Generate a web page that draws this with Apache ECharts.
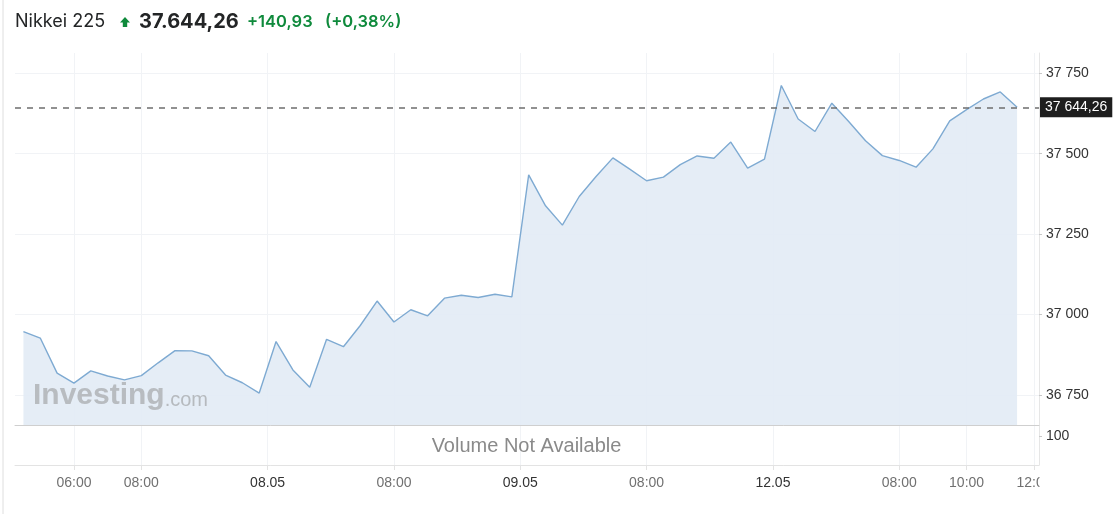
<!DOCTYPE html>
<html><head><meta charset="utf-8">
<script src="https://cdn.jsdelivr.net/npm/echarts@6/dist/echarts.min.js"></script>
<style>html,body{margin:0;padding:0;background:#fff}#c{width:1117px;height:514px}</style>
</head><body><div id="c"></div>
<script>
// ---- data ----
const prices = [
  36947, 36927, 36818, 36787, 36825, 36809, 36797, 36810, 36850, 36888, 36887, 36872, 36812, 36788, 36756,
  36916, 36828, 36774, 36923, 36900, 36966, 37042, 36977, 37015, 36996, 37051, 37060, 37053, 37063, 37055,
  37434, 37338, 37278, 37367, 37429, 37487, 37452, 37416, 37427, 37466, 37493, 37486, 37536, 37455, 37483,
  37712, 37608, 37569, 37657, 37600, 37540, 37494, 37479, 37458, 37515, 37602, 37637, 37670, 37692, 37644.26
];
const lastPrice = 37644.26;
const priceTicks = [36750, 37000, 37250, 37500, 37750];
const volumeTicks = [100];
const timeTickPos = [3, 7, 14.5, 22, 29.5, 37, 44.5, 52, 56, 60];
const timeTickLabels = ['06:00', '08:00', '08.05', '08:00', '09.05', '08:00', '12.05', '08:00', '10:00', '12:00'];
const titleName = 'Nikkei 225';
const titlePrice = '37.644,26';
const titleChange = '+140,93';
const titlePct = '(+0,38%)';

// ---- helpers ----
function fmtInt(v) { return String(Math.trunc(v)).replace(/\B(?=(\d{3})+(?!\d))/g, ' '); }
function fmtPrice(v) {
  const parts = v.toFixed(2).split('.');
  return parts[0].replace(/\B(?=(\d{3})+(?!\d))/g, ' ') + ',' + parts[1];
}
function timeLabel(v) {
  const i = timeTickPos.findIndex(p => Math.abs(p - v) < 1e-6);
  if (i < 0) return '';
  const s = timeTickLabels[i];
  return s.indexOf('.') >= 0 ? '{d|' + s + '}' : '{t|' + s + '}';
}

const axisFont = 'Arial, "Liberation Sans", sans-serif';
const uiFont = 'Inter, "Noto Sans", sans-serif';
const xMin = -0.5, xMax = 60.3;

const chart = echarts.init(document.getElementById('c'), null, { renderer: 'canvas' });
chart.setOption({
  animation: false,
  backgroundColor: '#ffffff',
  grid: [
    { left: 15, right: 78, top: 53, bottom: 89 },
    { left: 15, right: 78, top: 425, bottom: 49 }
  ],
  xAxis: [
    {
      type: 'value', gridIndex: 0, min: xMin, max: xMax,
      axisLine: { show: true, onZero: false, lineStyle: { color: '#cfcfcf', width: 1 } },
      axisTick: { show: false, customValues: timeTickPos },
      axisLabel: { show: false, customValues: timeTickPos },
      splitLine: { show: true, lineStyle: { color: '#f1f3f6', width: 1 } }
    },
    {
      type: 'value', gridIndex: 1, min: xMin, max: xMax,
      axisLine: { show: true, onZero: false, lineStyle: { color: '#e3e3e3', width: 1 } },
      axisTick: { show: true, length: 5, customValues: timeTickPos, lineStyle: { color: '#e3e3e3' } },
      axisLabel: {
        show: true, customValues: timeTickPos, margin: 11, formatter: timeLabel,
        rich: {
          t: { fontFamily: axisFont, fontSize: 14, color: '#707070' },
          d: { fontFamily: axisFont, fontSize: 14, color: '#333333' }
        }
      },
      splitLine: { show: true, lineStyle: { color: '#f1f3f6', width: 1 } }
    }
  ],
  yAxis: [
    {
      type: 'value', gridIndex: 0, position: 'right', min: 36656.7, max: 37813,
      axisLine: { show: true, onZero: false, lineStyle: { color: '#e6e6e6' } },
      axisTick: { show: true, length: 3, customValues: priceTicks, lineStyle: { color: '#c8c8c8' } },
      axisLabel: { customValues: priceTicks, margin: 7, formatter: v => fmtInt(v), fontFamily: axisFont, fontSize: 14, color: '#333333' },
      splitLine: { show: true, lineStyle: { color: '#f1f3f6', width: 1 } }
    },
    {
      type: 'value', gridIndex: 1, position: 'right', min: 0, max: 137.9,
      axisLine: { show: true, onZero: false, lineStyle: { color: '#e6e6e6' } },
      axisTick: { show: true, length: 3, customValues: volumeTicks, lineStyle: { color: '#c8c8c8' } },
      axisLabel: { customValues: volumeTicks, margin: 7, formatter: v => fmtInt(v), fontFamily: axisFont, fontSize: 14, color: '#333333' },
      splitLine: { show: false }
    }
  ],
  series: [
    {
      type: 'line', xAxisIndex: 0, yAxisIndex: 0,
      data: prices.map((v, i) => [i, v]),
      symbol: 'none', smooth: false,
      lineStyle: { color: '#7eaad2', width: 1.4 },
      areaStyle: { color: '#e3ecf5', opacity: 0.92, origin: 'start' },
      markLine: {
        silent: true, symbol: ['none', 'none'],
        lineStyle: { type: [6, 6], color: '#6e6e6e', width: 1.5 },
        label: {
          show: true, position: 'end', distance: 1, formatter: () => fmtPrice(lastPrice),
          backgroundColor: '#1e1e1e', color: '#ffffff', padding: [3, 5, 3, 5],
          fontFamily: axisFont, fontSize: 14
        },
        data: [{ yAxis: lastPrice }]
      }
    }
  ],
  graphic: [
    { type: 'line', shape: { x1: 3, y1: 0, x2: 3, y2: 514 }, style: { stroke: '#dedede', lineWidth: 1 }, z: 50 },
    { type: 'text', x: 15, y: 22, z: 50, style: { text: titleName, fontFamily: uiFont, fontSize: 18, fill: '#232526', verticalAlign: 'middle' } },
    { type: 'polygon', z: 50, shape: { points: [[125, 17], [130, 22.5], [127.2, 22.5], [127.2, 27], [122.8, 27], [122.8, 22.5], [120, 22.5]] }, style: { fill: '#0f8a3c' } },
    { type: 'text', x: 139, y: 22, z: 50, style: { text: titlePrice, fontFamily: uiFont, fontSize: 20, fontWeight: 'bold', fill: '#232526', verticalAlign: 'middle' } },
    { type: 'text', x: 247, y: 22, z: 50, style: { text: titleChange, fontFamily: uiFont, fontSize: 16.5, fontWeight: 600, fill: '#0f8a3c', verticalAlign: 'middle' } },
    { type: 'text', x: 325, y: 22, z: 50, style: { text: titlePct, fontFamily: uiFont, fontSize: 16.5, fontWeight: 600, fill: '#0f8a3c', verticalAlign: 'middle' } },
    { type: 'text', x: 526.5, y: 446, z: 50, style: { text: 'Volume Not Available', fontFamily: axisFont, fontSize: 20, fill: '#8a8a8a', align: 'center', verticalAlign: 'middle' } },
    {
      type: 'text', x: 33, y: 396, z: 50,
      style: {
        text: '{b|Investing}{c|.com}', verticalAlign: 'middle',
        rich: {
          b: { fontFamily: axisFont, fontSize: 30, fontWeight: 'bold', fill: '#b2b6ba', opacity: 0.9 },
          c: { fontFamily: axisFont, fontSize: 20, fill: '#b6babe', padding: [8, 0, 0, 0] }
        }
      }
    },
    { type: 'rect', z: 60, shape: { x: 1039.5, y: 469, width: 78, height: 30 }, style: { fill: '#ffffff' } }
  ]
});
</script>
</body></html>
